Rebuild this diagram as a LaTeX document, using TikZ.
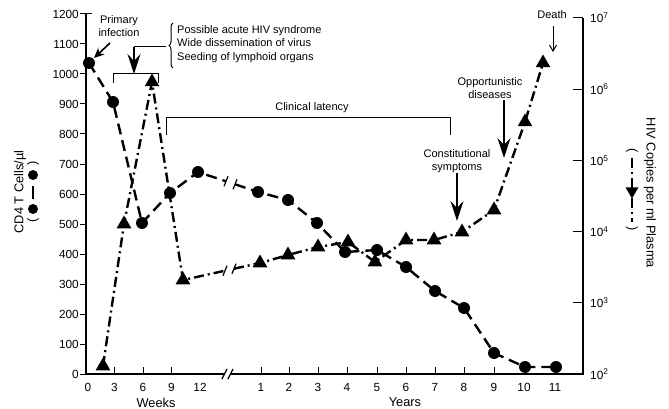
\documentclass[tikz,border=0pt]{standalone}
\usepackage{fontspec}
\setmainfont{Liberation Sans}
\usetikzlibrary{arrows.meta,shapes.geometric,decorations.pathreplacing,calc}
\begin{document}
\begin{tikzpicture}[x=1pt,y=-1pt,
  axis/.style={line width=1.3pt},
  tickmark/.style={line width=1pt},
  ticklbl/.style={font=\fontsize{11.8}{13}\selectfont, inner sep=0pt},
  axtitle/.style={font=\fontsize{12.8}{14}\selectfont, inner sep=0pt},
  note/.style={font=\fontsize{11}{13.5}\selectfont, inner sep=0pt, align=center},
  cdline/.style={line width=2.4pt, dash pattern=on 11pt off 6pt},
  hivline/.style={line width=2.4pt, dash pattern=on 10pt off 4pt on 2pt off 4pt},
  dotmark/.style={circle, fill=black, minimum size=12pt, inner sep=0pt},
  trimark/.style={regular polygon, regular polygon sides=3, fill=black, minimum size=17pt, inner sep=0pt},
  brk/.style={line width=1.2pt},
  thinline/.style={line width=1pt},
  bigarrow/.style={line width=1.2pt, -{Stealth[length=20pt,width=13pt,inset=7pt]}},
  smallarrow/.style={line width=1.6pt, -{Stealth[length=10pt,width=9pt,inset=3pt]}},
  barbarrow/.style={line width=1pt, -{Straight Barb[length=6pt,width=7pt]}}
]
\useasboundingbox (0,0) rectangle (669,409);

% ---------- axes ----------
\coordinate (o) at (86,374);
\coordinate (ltop) at (86,14);
\coordinate (rbot) at (583,374);
\coordinate (rtop) at (583,18);
\coordinate (xbA) at (224,374);
\coordinate (xbB) at (231,374);
\draw[axis] (ltop) -- (o) -- (xbA);
\draw[axis] (xbB) -- (rbot) -- (rtop);
\draw[brk] ($(xbA)+(-2,5)$) -- ($(xbA)+(3,-5)$);
\draw[brk] ($(xbB)+(-3,5)$) -- ($(xbB)+(2,-5)$);

% left ticks
\foreach \v [count=\i from 0] in {0,100,...,1200}{
  \draw[tickmark] (80,374-30*\i) -- (86,374-30*\i);
  \node[ticklbl, anchor=east] (ly\i) at (79,374-30*\i) {\v};
}
\draw[tickmark] (86,14) -- (92,14);

% right ticks
\foreach \e [count=\i from 0] in {2,3,4,5,6,7}{
  \draw[tickmark] (573,374-71.2*\i) -- (583,374-71.2*\i);
  \node[ticklbl, anchor=west] (ry\i) at (590,374-71.2*\i) {10\textsuperscript{\e}};
}

% bottom ticks and labels
\foreach \x/\l [count=\i] in {88/0,114.5/3,143/6,171.5/9,200/12}{
  \node[ticklbl] (wk\i) at (\x,387) {\l};
}
\foreach \x in {114.5,143,171.5}{
  \draw[tickmark] (\x,374) -- (\x,367);
}
\foreach \x/\l [count=\i] in {261/1,289/2,318/3,347/4,377/5,406/6,435/7,464/8,494/9,524/10,555/11}{
  \draw[tickmark] (\x,374) -- (\x,367);
  \node[ticklbl] (yr\i) at (\x,387) {\l};
}
\node[axtitle] (weeks) at (156,403) {Weeks};
\node[axtitle] (years) at (405,402) {Years};

% axis titles and legends
\node[axtitle, rotate=90] (cdtitle) at (20,192) {CD4 T Cells/\textmu l};
\node[axtitle, rotate=90] (lpo) at (33,220) {(};
\node[axtitle, rotate=90] (lpc) at (33,163) {)};
\coordinate (lga) at (33,209);
\coordinate (lgb) at (33,175);
\draw[line width=1.6pt] (33,199) -- (33,186);
\node[dotmark, minimum size=10pt] (lgda) at (lga) {};
\node[dotmark, minimum size=10pt] (lgdb) at (lgb) {};

\node[axtitle, rotate=-90] (hivtitle) at (650,193) {HIV Copies per ml Plasma};
\node[axtitle, rotate=-90] (rpo) at (632,151) {(};
\node[axtitle, rotate=-90] (rpc) at (632,229) {)};
\coordinate (rga) at (632,158);
\coordinate (rgb) at (632,222);
\draw[line width=1.6pt, dash pattern=on 10pt off 4pt on 2pt off 4pt] (rga) -- (rgb);
\node[trimark, minimum size=15pt, rotate=180] (rgt) at (632,191) {};

% ---------- data points ----------
\foreach \n/\x/\y in {c0/89/63, c1/113/102, c2/142/223, c3/170/193, c4/198/172,
  c5/258/192, c6/288/200, c7/317/223, c8/345/252, c9/377/250, c10/406/267,
  c11/435/291, c12/464/308, c13/494/353, c14/525/367, c15/556/367}{
  \coordinate (\n) at (\x,\y);
}
\foreach \n/\x/\y in {t0/103/366, t1/124/224, t2/152/82, t3/183/280, t4/260/263,
  t5/288/255, t6/318/247, t7/348/242, t8/375/262, t9/406/240, t10/434/240,
  t11/462/232, t12/494/210, t13/525/122, t14/543/63}{
  \coordinate (\n) at (\x,\y);
}
\coordinate (cbA) at (226,181.3);
\coordinate (cbB) at (235,184.3);
\coordinate (tbA) at (225,270.7);
\coordinate (tbB) at (234,268.7);

% CD4 curve
\draw[cdline] (c0) -- (c1) -- (c2) -- (c3) -- (c4) -- (cbA);
\draw[cdline] (cbB) -- (c5) -- (c6) -- (c7) -- (c8) -- (c9) -- (c10) -- (c11) -- (c12) -- (c13) -- (c14) -- (c15);
\draw[brk] ($(cbA)+(-2,5)$) -- ($(cbA)+(2,-5)$);
\draw[brk] ($(cbB)+(-2,5)$) -- ($(cbB)+(2,-5)$);

% HIV curve
\draw[hivline] (t0) -- (t1) -- (t2) -- (t3) -- (tbA);
\draw[hivline] (tbB) -- (t4) -- (t5) -- (t6) -- (t7) -- (t8) -- (t9) -- (t10) -- (t11) -- (t12) -- (t13) -- (t14);
\draw[brk] ($(tbA)+(-2,5)$) -- ($(tbA)+(2,-5)$);
\draw[brk] ($(tbB)+(-2,5)$) -- ($(tbB)+(2,-5)$);

% markers
\foreach \n in {c0,c1,c2,c3,c4,c5,c6,c7,c8,c9,c10,c11,c12,c13,c14,c15}{
  \node[dotmark] (m\n) at (\n) {};
}
\foreach \n in {t0,t1,t2,t3,t4,t5,t6,t7,t8,t9,t10,t11,t12,t13,t14}{
  \node[trimark] (m\n) at (\n) {};
}

% ---------- annotations ----------
\node[note] (primary) at (119,26) {Primary\\infection};
\coordinate (pa) at (110,43);
\coordinate (pb) at (94,58);
\draw[smallarrow] (pa) -- (pb);

\coordinate (bl) at (113,83);
\coordinate (br) at (158,83);
\coordinate (ba) at (134,47);
\coordinate (bt) at (134,74);
\coordinate (bw) at (166,47);
\draw[thinline] (bl) -- (113,74) -- (158,74) -- (br);
\draw[bigarrow] (ba) -- (bt);
\draw[thinline] (ba) -- (bw);
\draw[thinline, decorate, decoration={brace, amplitude=4pt}] (173,68) -- (173,23);
\node[note, align=left, anchor=west] (acute) at (177,44) {Possible acute HIV syndrome\\Wide dissemination of virus\\Seeding of lymphoid organs};

\node[note] (latency) at (312,108) {Clinical latency};
\coordinate (ll) at (166,135);
\coordinate (lr) at (450,135);
\draw[thinline] (ll) -- (166,118) -- (450,118) -- (lr);

\node[note] (constit) at (457,161) {Constitutional\\symptoms};
\coordinate (ct) at (457,221);
\draw[bigarrow] (constit.south) -- (ct);

\node[note] (opport) at (490,88) {Opportunistic\\diseases};
\coordinate (oa) at (504,100);
\coordinate (ot) at (504,158);
\draw[bigarrow] (oa) -- (ot);

\node[note] (death) at (552,15) {Death};
\coordinate (da) at (553,26);
\coordinate (dt) at (553,52);
\draw[barbarrow] (da) -- (dt);
\end{tikzpicture}
\end{document}
